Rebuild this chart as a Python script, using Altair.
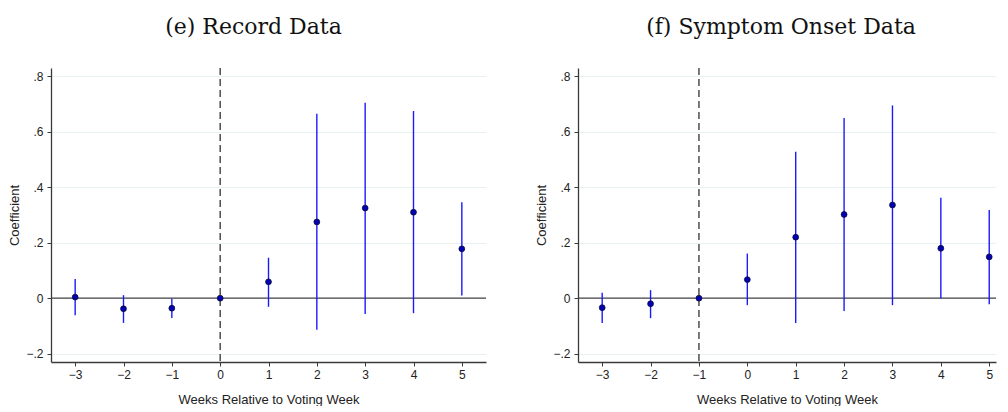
import altair as alt
import pandas as pd

weeks = [-3, -2, -1, 0, 1, 2, 3, 4, 5]

record_coef = [0.004, -0.038, -0.036, 0.0, 0.059, 0.275, 0.325, 0.310, 0.178]
record_lo = [-0.061, -0.089, -0.071, None, -0.031, -0.114, -0.057, -0.054, 0.010]
record_hi = [0.069, 0.011, -0.001, None, 0.146, 0.665, 0.705, 0.675, 0.346]

onset_coef = [-0.034, -0.020, 0.0, 0.067, 0.220, 0.302, 0.336, 0.180, 0.149]
onset_lo = [-0.089, -0.072, None, -0.025, -0.089, -0.046, -0.025, 0.000, -0.022]
onset_hi = [0.020, 0.029, None, 0.161, 0.528, 0.650, 0.695, 0.362, 0.318]

titles = ["(e) Record Data", "(f) Symptom Onset Data"]
ref_weeks = [0, -1]

y_ticks = [-0.2, 0, 0.2, 0.4, 0.6, 0.8]
x_ticks = weeks

SANS = "Liberation Sans"
SERIF = "DejaVu Serif"
AXIS_COLOR = "#3a3a3a"


def panel(coef, lo, hi, title, ref, width, xmax, title_dx):
    df = pd.DataFrame({"week": weeks, "coef": coef, "lo": lo, "hi": hi})
    xscale = alt.Scale(domain=[-3.5, xmax], nice=False, zero=False)
    yscale = alt.Scale(domain=[-0.23, 0.83], nice=False, zero=False)
    x_axis = alt.Axis(
        values=x_ticks, format="d", title="Weeks Relative to Voting Week",
        grid=False, tickSize=4, labelPadding=3, titlePadding=13,
    )
    y_axis = alt.Axis(
        values=y_ticks, title="Coefficient", grid=True,
        gridColor="#e8f0f1", gridWidth=1, tickSize=4, labelPadding=4,
        titlePadding=4,
        labelExpr="datum.value == 0 ? '0' : replace(format(datum.value, '.1f'), '0.', '.')",
    )
    base = alt.Chart(df)
    ci = base.mark_rule(color="#1a1aff", strokeWidth=1.4).encode(
        x=alt.X("week:Q", scale=xscale, axis=x_axis),
        y=alt.Y("lo:Q", scale=yscale, axis=y_axis),
        y2="hi:Q",
    )
    zero = alt.Chart(pd.DataFrame({"z": [0]})).mark_rule(
        color="#444444", strokeWidth=1.3
    ).encode(y=alt.Y("z:Q", scale=yscale))
    vline = alt.Chart(pd.DataFrame({"r": [ref]})).mark_rule(
        color="#333333", strokeWidth=1.3, strokeDash=[7, 4]
    ).encode(x=alt.X("r:Q", scale=xscale))
    pts = base.mark_point(
        filled=True, shape="circle", size=34, color="#0000b8",
        stroke="#101030", strokeWidth=0.8, opacity=1,
    ).encode(
        x=alt.X("week:Q", scale=xscale),
        y=alt.Y("coef:Q", scale=yscale),
    )
    return alt.layer(zero, vline, ci, pts).properties(
        width=width, height=294,
        title=alt.TitleParams(
            title, font=SERIF, fontSize=22, fontWeight="normal",
            color="#111111", anchor="middle", offset=28, dx=title_dx,
        ),
    )


left = panel(record_coef, record_lo, record_hi, titles[0], ref_weeks[0], 435, 5.5, -15)
right = panel(onset_coef, onset_lo, onset_hi, titles[1], ref_weeks[1], 418, 5.14, -6)

chart = alt.hconcat(left, right, spacing=48).properties(
    padding={"top": 8, "left": 0, "right": 0, "bottom": 0}
).configure_view(
    stroke=None
).configure_axis(
    labelFont=SANS, titleFont=SANS, labelFontSize=12, titleFontSize=13,
    labelColor="#222222", titleColor="#222222", titleFontWeight="normal",
    domainColor=AXIS_COLOR, tickColor=AXIS_COLOR, domainWidth=1.3,
)

chart.save("out.html", embed_options={"renderer": "svg", "actions": False})
